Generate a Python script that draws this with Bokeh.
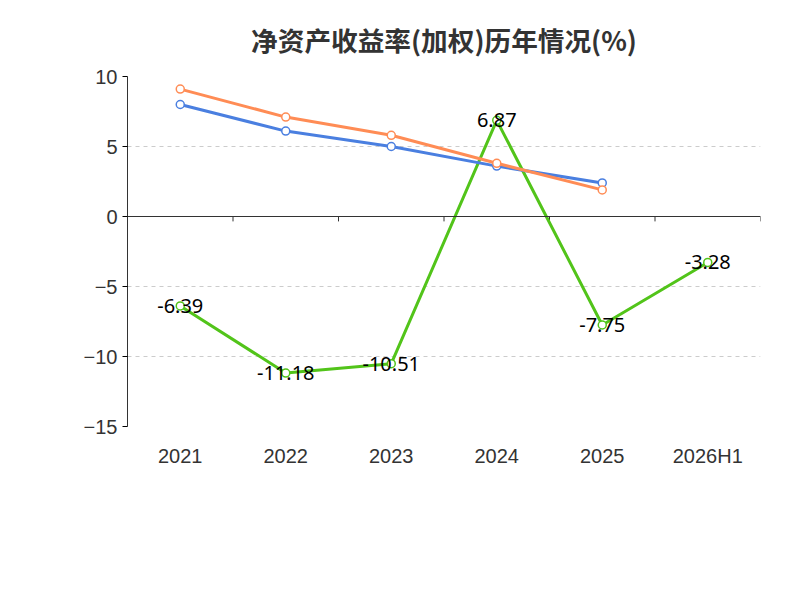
import math
from bokeh.plotting import figure
from bokeh.models import Span, Label, Legend, LegendItem, Title, FixedTicker, ColumnDataSource
from bokeh.embed import file_html
from bokeh.resources import INLINE
from bokeh.core.properties import value

years = ["2021", "2022", "2023", "2024", "2025", "2026H1"]
company = [-6.39, -11.18, -10.51, 6.87, -7.75, -3.28]
ind_avg = [8.0, 6.1, 5.0, 3.6, 2.4]
ind_med = [9.1, 7.1, 5.8, 3.8, 1.9]

xs = list(range(len(years)))
p = figure(frame_width=633, frame_height=350, output_backend="svg", toolbar_location=None,
           x_range=(-0.5, len(years) - 0.5), y_range=(-15, 10),
           min_border_left=127, min_border_right=16, min_border_top=5, min_border_bottom=0)
p.title.text = "净资产收益率(加权)历年情况(%)"
p.title.align = "center"
p.title.text_font_size = "20pt"
p.title.text_font = "Noto Sans CJK SC"
p.title.text_color = "#333333"
p.title.standoff = 35
p.outline_line_color = None
p.xgrid.grid_line_color = None
p.ygrid.grid_line_dash = "4 4"
p.ygrid.grid_line_color = "#cccccc"
p.yaxis.ticker = FixedTicker(ticks=[-15, -10, -5, 0, 5, 10])
p.yaxis.major_label_text_font_size = "15pt"
p.yaxis.major_label_text_color = "#333333"
p.yaxis.axis_line_color = "#333333"
p.yaxis.minor_tick_line_color = None
p.yaxis.major_tick_in = 0
p.yaxis.major_tick_out = 5
p.xaxis.ticker = FixedTicker(ticks=xs)
p.xaxis.major_label_overrides = {i: y for i, y in enumerate(years)}
p.xaxis.major_label_text_font_size = "15pt"
p.xaxis.major_label_text_color = "#333333"
p.xaxis.axis_line_color = None
p.xaxis.major_tick_line_color = None
p.xaxis.minor_tick_line_color = None
p.xaxis.major_label_standoff = 12

p.add_layout(Span(location=0, dimension="width", line_color="#333333", line_width=1))
bx = [i + 0.5 for i in range(-1, len(years))]
p.segment(x0=bx, x1=bx, y0=[0] * len(bx), y1=[-0.35] * len(bx), line_color="#333333")

r1 = p.line(xs, company, line_color="#52c41a", line_width=3)
c1 = p.scatter(xs, company, size=8, fill_color="white", line_color="#52c41a", line_width=1.5)
r2 = p.line(xs[:5], ind_avg, line_color="#4a7fe0", line_width=3)
c2 = p.scatter(xs[:5], ind_avg, size=8, fill_color="white", line_color="#4a7fe0", line_width=1.5)
r3 = p.line(xs[:5], ind_med, line_color="#ff8c55", line_width=3)
c3 = p.scatter(xs[:5], ind_med, size=8, fill_color="white", line_color="#ff8c55", line_width=1.5)

src = ColumnDataSource(dict(x=xs, y=company, t=[f"{v:.2f}" for v in company]))
p.text(x="x", y="y", text="t", source=src, text_align="center", text_baseline="middle",
       text_font_size="15pt", text_color="black", text_font=value("Noto Sans"))

p.add_layout(Label(x=-0.5, y=7.5, x_offset=-58, text="(%)", angle=math.pi / 2,
                   text_color="red", text_font_size="12pt", text_align="center"))

leg = Legend(items=[LegendItem(label="公司净资产收益率(加权)", renderers=[r1, c1]),
                    LegendItem(label="行业均值", renderers=[r2, c2]),
                    LegendItem(label="行业中位数", renderers=[r3, c3])],
             orientation="horizontal", border_line_color=None,
             label_text_font_size="15pt", label_text_font="Noto Sans CJK SC",
             label_text_color="#333333", glyph_width=45, spacing=25, margin=18,
             padding=2)
p.add_layout(leg, "below")
src_t = Title(text="制图数据来自恒生聚源数据库", align="center", text_font_size="11pt",
              text_color="#c8901a", text_font="Noto Sans CJK SC", text_font_style="normal",
              standoff=8)
p.add_layout(src_t, "below")

open("out.html", "w").write(file_html(p, INLINE))
